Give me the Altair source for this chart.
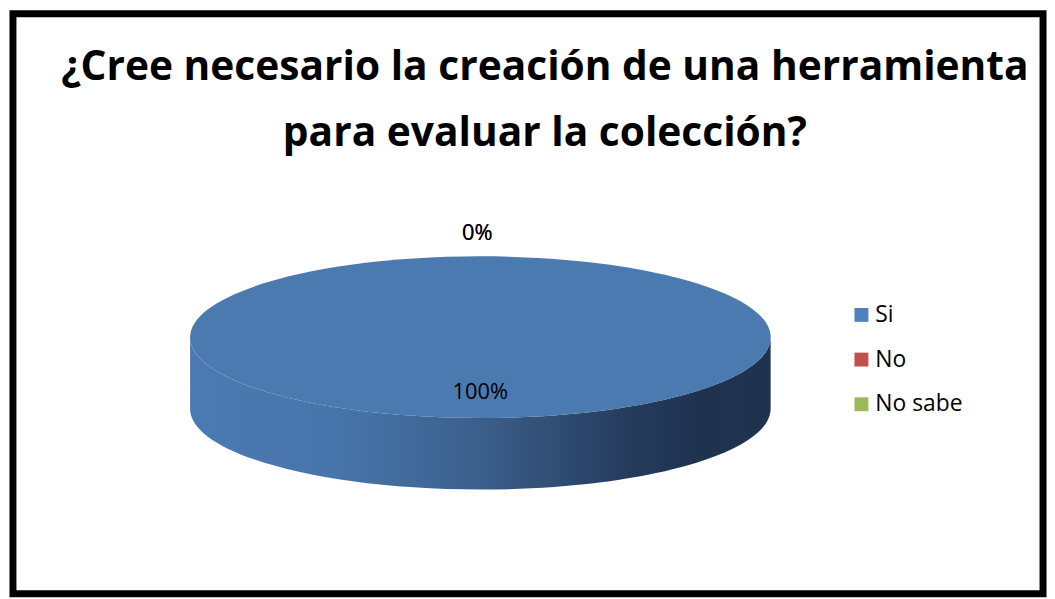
import altair as alt
import pandas as pd

# ---- data -------------------------------------------------------------
categories = ["Si", "No", "No sabe"]
values = [100, 0, 0]
colors = ["#4f81bd", "#c0504d", "#9bbb59"]          # legend colours
face_colors = ["#4a7ab0", "#b84b48", "#93b255"]     # shaded pie-top colours
title_lines = ["¿Cree necesario la creación de una herramienta",
               "para evaluar la colección?"]

df = pd.DataFrame({"categoria": categories, "valor": values})

# ---- layout / style ---------------------------------------------------
W, H = 1047, 591
CX, CY = 476, 329.5          # centre of the pie's top face
SIZE = 585 ** 2              # symbol area -> half-width 292.5 px
FONT = "Open Sans"

# ellipse (top face) and cylinder side, unit coordinates
top_path = ("M -1 0 C -1 -0.1539 -0.5523 -0.2786 0 -0.2786 "
            "C 0.5523 -0.2786 1 -0.1539 1 0 "
            "C 1 0.1539 0.5523 0.2786 0 0.2786 "
            "C -0.5523 0.2786 -1 0.1539 -1 0 Z")
side_path = ("M -1 0 L -1 0.2462 C -1 0.4001 -0.5523 0.5248 0 0.5248 "
             "C 0.5523 0.5248 1 0.4001 1 0.2462 L 1 0 "
             "C 1 0.1539 0.5523 0.2786 0 0.2786 "
             "C -0.5523 0.2786 -1 0.1539 -1 0 Z")

side_grad = alt.LinearGradient(
    gradient="linear",
    stops=[
        alt.GradientStop(offset=0.0, color="#4b7ab2"),
        alt.GradientStop(offset=0.25, color="#4775ab"),
        alt.GradientStop(offset=0.5, color="#3c5f8b"),
        alt.GradientStop(offset=0.75, color="#263c5d"),
        alt.GradientStop(offset=0.88, color="#1f3250"),
        alt.GradientStop(offset=1.0, color="#20334d"),
    ],
    x1=0, x2=1, y1=0, y2=0,
)

base = alt.Chart(df).transform_joinaggregate(
    total="sum(valor)"
).transform_calculate(
    pct="format(datum.valor / datum.total, '.0%')"
)

side = base.transform_filter("datum.valor > 0").mark_point(
    shape=side_path, size=SIZE, filled=True, fill=side_grad,
    opacity=1, strokeWidth=0
).encode(x=alt.value(CX), y=alt.value(CY))

top = base.transform_filter("datum.valor > 0").mark_point(
    shape=top_path, size=SIZE, filled=True, opacity=1, strokeWidth=0
).encode(
    x=alt.value(CX), y=alt.value(CY),
    fill=alt.Fill("categoria:N", scale=alt.Scale(domain=categories, range=face_colors),
                  legend=None),
)

label_big = base.transform_filter("datum.valor > 0").mark_text(
    font=FONT, fontSize=22, color="#000000", baseline="alphabetic", align="center"
).encode(x=alt.value(CX), y=alt.value(392), text="pct:N")

label_zero = base.transform_filter("datum.valor == 0").mark_text(
    font=FONT, fontSize=22, color="#000000", baseline="alphabetic", align="center"
).encode(x=alt.value(473), y=alt.value(232), text="pct:N")

leg_y = alt.Y("categoria:N", scale=alt.Scale(domain=categories, range=[307, 397], padding=0),
              axis=None)

legend_sq = alt.Chart(df).mark_square(size=196, opacity=1).encode(
    x=alt.value(860), y=leg_y,
    color=alt.Color("categoria:N", scale=alt.Scale(domain=categories, range=colors),
                    legend=None),
)
legend_tx = alt.Chart(df).mark_text(
    font=FONT, fontSize=23, align="left", baseline="middle", color="#000000"
).encode(x=alt.value(874), y=leg_y, text="categoria:N")

title = alt.Chart(alt.Data(values=[{"t": title_lines}])).mark_text(
    font=FONT, fontSize=41, fontWeight="bold", align="center",
    baseline="alphabetic", lineHeight=67, color="#000000"
).encode(x=alt.value(541), y=alt.value(70), text="t:N")

frame = alt.Chart(alt.Data(values=[{}])).mark_rect(
    fill=None, stroke="#000000", strokeWidth=7
).encode(x=alt.value(5), x2=alt.value(1043), y=alt.value(3.5), y2=alt.value(588))

chart = alt.layer(
    side, top, label_big, label_zero, legend_sq, legend_tx, title, frame
).resolve_scale(
    color="independent", fill="independent"
).properties(
    width=W, height=H, padding=0,
    autosize=alt.AutoSizeParams(type="none"),
    background="#ffffff",
).configure_view(stroke=None)

chart.save("out.html", embed_options={"renderer": "svg", "actions": False})
